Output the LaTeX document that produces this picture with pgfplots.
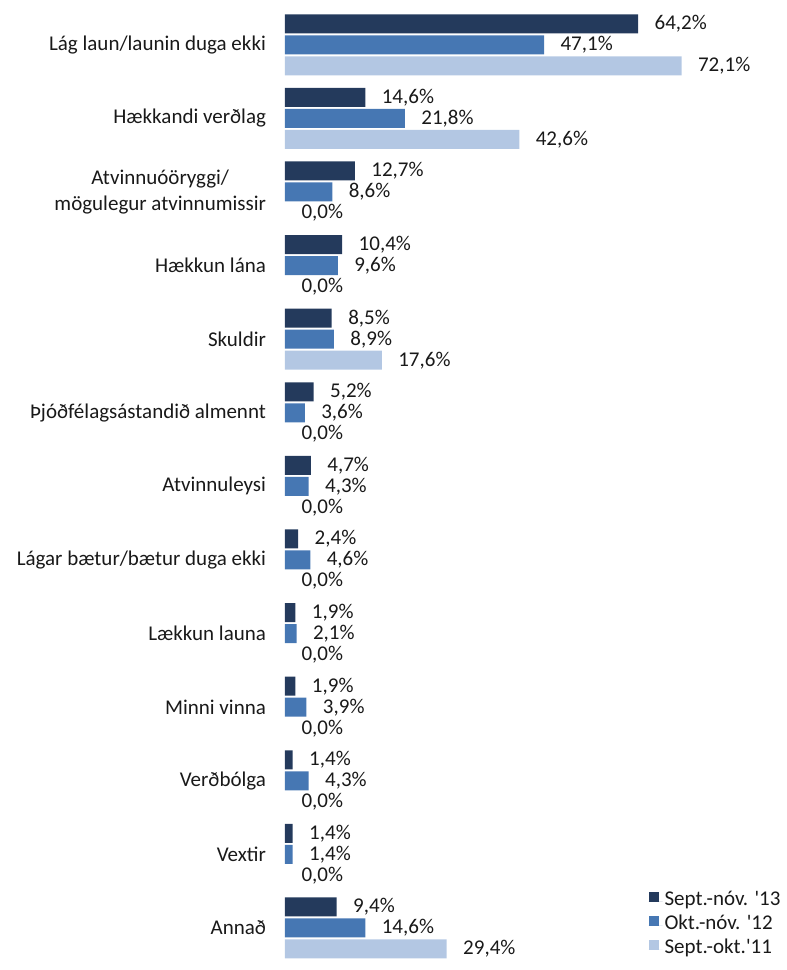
\documentclass[border=0pt]{standalone}
\usepackage{pgfplots}
\pgfplotsset{compat=1.18}
\usepackage{fontspec}
\setmainfont{Carlito}
\definecolor{cA}{HTML}{243A5C}
\definecolor{cB}{HTML}{4677B3}
\definecolor{cC}{HTML}{B3C7E3}
\pgfplotstableread{
y a b c
12 64.2 47.1 72.1
11 14.6 21.8 42.6
10 12.7 8.6 0
9 10.4 9.6 0
8 8.5 8.9 17.6
7 5.2 3.6 0
6 4.7 4.3 0
5 2.4 4.6 0
4 1.9 2.1 0
3 1.9 3.9 0
2 1.4 4.3 0
1 1.4 1.4 0
0 9.4 14.6 29.4
}\data
\begin{document}
\begin{tikzpicture}[font=\fontsize{21}{26}\selectfont]
\useasboundingbox (0,0) rectangle (787pt,970pt);
\begin{axis}[
  at={(285pt,5.2pt)}, anchor=south west,
  scale only axis, width=495pt, height=956.8pt,
  xmin=0, xmax=90, ymin=-0.5, ymax=12.5,
  axis line style={draw=none},
  xtick=\empty,
  ytick={0,...,12},
  yticklabels={Annað,Vextir,Verðbólga,Minni vinna,Lækkun launa,Lágar bætur/bætur duga ekki,Atvinnuleysi,Þjóðfélagsástandið almennt,Skuldir,Hækkun lána,{Atvinnuóöryggi/\\mögulegur atvinnumissir},Hækkandi verðlag,Lág laun/launin duga ekki},
  yticklabel style={align=center, anchor=east, xshift=-15.5pt, font=\fontsize{21}{26}\selectfont, text=black!90},
  major tick length=0pt,
  clip=false,
  xbar, bar width=19pt,
  /pgf/number format/assume math mode=true,
  nodes near coords={\pgfmathprintnumber[fixed,fixed zerofill,precision=1,use comma]{\pgfplotspointmeta}\%},
  nodes near coords align={horizontal},
  every node near coord/.append style={anchor=west, xshift=13pt, font=\fontsize{21}{26}\selectfont, text=black!90},
  legend style={draw=none, fill=none, at={(0.734,0.005)}, anchor=south west, font=\fontsize{21}{26}\selectfont, text=black!90, row sep=4pt, inner sep=0pt, nodes={inner ysep=0pt, text height=14pt, text depth=6pt}, cells={anchor=west}},
  legend image code/.code={\fill[#1,draw=none] (0pt,0pt) rectangle (10pt,10pt); \path (0pt,0pt) -- (14pt,0pt);},
]
\addplot[fill=cA, draw=none, bar shift=21pt] table[x=a,y=y]{\data};
\addplot[fill=cB, draw=none, bar shift=0pt] table[x=b,y=y]{\data};
\addplot[fill=cC, draw=none, bar shift=-21pt, nodes near coords=\empty, restrict x to domain=0.01:100] table[x=c,y=y]{\data};
\addplot[fill=none, draw=none, bar shift=-21pt, forget plot] table[x=c,y=y]{\data};
\legend{Sept.-nóv. \textquotesingle13, Okt.-nóv. \textquotesingle12, Sept.-okt.\textquotesingle11}
\end{axis}
\end{tikzpicture}
\end{document}
